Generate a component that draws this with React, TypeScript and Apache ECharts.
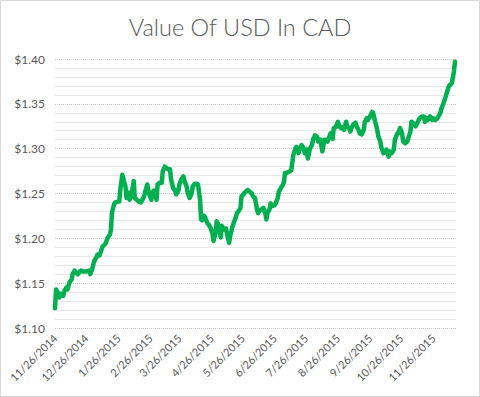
import React, { useEffect, useRef } from "react";
import * as echarts from "echarts";

const START_YEAR = 2014;
const START_MONTH = 10; // November (0-based)
const START_DAY = 26;
const END_OFFSET = 387; // axis end, days after 11/26/2014

// days after 11/26/2014
const dayOffsets = [
  0, 1, 3, 4, 6, 8, 9, 11, 12, 14, 16, 17, 19, 20, 22, 24, 25, 27, 30, 33, 34, 36, 37, 38, 40, 41, 43, 45, 46, 48,
  49, 51, 53, 54, 55, 57, 58, 61, 62, 63, 65, 66, 68, 69, 71, 72, 74, 76, 77, 79, 81, 83, 86, 88, 89,
  91, 93, 95, 96, 98, 99, 101, 103, 104, 106, 107, 109, 111, 112, 114, 116, 117, 119, 120, 122, 124, 125, 127, 128,
  130, 132, 133, 135, 137, 138, 140, 141, 142, 144, 145, 147, 148, 150, 152, 153, 155, 156, 158, 160, 161, 163, 165,
  166, 168, 169, 171, 173, 174, 176, 177, 179, 180, 182, 183, 185, 186,
  188, 190, 191, 193, 195, 196, 198, 199, 201, 203, 204, 205, 207, 208, 210, 212, 213, 215, 216, 218, 220, 221, 222,
  224, 225, 227, 228, 230, 232, 233, 235, 236, 238, 240, 241, 243, 244, 246, 248, 249, 251, 253, 254, 256, 257, 258,
  260, 261, 263, 264, 266, 268, 269, 271, 273, 274, 276, 277, 279, 281, 282, 284,
  285, 286, 288, 290, 291, 293, 294, 296, 298, 299, 301, 302, 304, 306, 307, 309, 311, 312, 314, 315, 317, 319, 320,
  322, 323, 325, 327, 328, 330, 331, 333, 335, 336, 338, 340, 341, 343, 344, 346, 348, 349, 351, 352, 354, 356, 357,
  359, 360, 362, 364, 365, 367, 369, 370, 372, 373, 375, 377, 378, 380, 381, 383, 385, 386,
];

const usdCad = [
  1.122, 1.143, 1.139, 1.134, 1.138, 1.136, 1.141, 1.145, 1.143, 1.151, 1.154, 1.16, 1.164, 1.162, 1.16, 1.163, 1.164,
  1.163, 1.163, 1.164, 1.16, 1.166, 1.171, 1.175, 1.179, 1.182, 1.181, 1.188, 1.191, 1.193,
  1.195, 1.201, 1.204, 1.21, 1.229, 1.238, 1.24, 1.241, 1.241, 1.254, 1.271, 1.266, 1.258, 1.245, 1.251, 1.243, 1.249,
  1.264, 1.245, 1.243, 1.241, 1.24, 1.247, 1.256, 1.26,
  1.249, 1.243, 1.253, 1.253, 1.243, 1.26, 1.262, 1.262, 1.275, 1.28, 1.279, 1.277, 1.277, 1.266, 1.256, 1.253, 1.249,
  1.253, 1.26, 1.266, 1.269, 1.264, 1.258, 1.251,
  1.245, 1.251, 1.258, 1.261, 1.261, 1.26, 1.243, 1.221, 1.22, 1.225, 1.223, 1.217, 1.216, 1.212, 1.205, 1.197, 1.206,
  1.219, 1.214, 1.201, 1.214, 1.21, 1.211,
  1.205, 1.195, 1.202, 1.212, 1.219, 1.222, 1.229, 1.23, 1.234, 1.247, 1.249, 1.251, 1.253, 1.254,
  1.252, 1.25, 1.247, 1.245, 1.232, 1.228, 1.232, 1.232, 1.234, 1.228, 1.221, 1.228, 1.232, 1.239, 1.236, 1.237, 1.239,
  1.245, 1.252, 1.256, 1.26, 1.263, 1.273,
  1.273, 1.274, 1.275, 1.276, 1.293, 1.3, 1.302, 1.295, 1.3, 1.304, 1.3, 1.295, 1.299, 1.289, 1.3, 1.304, 1.31, 1.315,
  1.313, 1.308, 1.31, 1.304, 1.297,
  1.31, 1.31, 1.308, 1.311, 1.317, 1.311, 1.323, 1.324, 1.33, 1.326, 1.323, 1.324, 1.321, 1.33, 1.324, 1.323,
  1.319, 1.323, 1.327, 1.329, 1.325, 1.321, 1.317, 1.316, 1.321, 1.33, 1.334, 1.332, 1.336, 1.341, 1.34, 1.33, 1.321,
  1.314, 1.308, 1.301, 1.295, 1.297, 1.299,
  1.291, 1.297, 1.295, 1.299, 1.31, 1.316, 1.317, 1.323, 1.317, 1.308, 1.306, 1.308, 1.312, 1.319, 1.33, 1.328, 1.325,
  1.327, 1.332, 1.334, 1.336, 1.336, 1.33,
  1.334, 1.332, 1.336, 1.332, 1.334, 1.332, 1.334, 1.336, 1.34, 1.345, 1.351, 1.358, 1.362, 1.369, 1.371, 1.373, 1.386,
  1.397,
];

// month label dates (26th of each month): [year, month(0-based)]
const labelMonths = [
  [2014, 10], [2014, 11], [2015, 0], [2015, 1], [2015, 2], [2015, 3], [2015, 4],
  [2015, 5], [2015, 6], [2015, 7], [2015, 8], [2015, 9], [2015, 10],
];

const yMin = 1.1;
const yMax = 1.4;
const yStep = 0.05;

const startTs = Date.UTC(START_YEAR, START_MONTH, START_DAY);
const DAY = 86400000;
const offsetOf = (y: number, m: number, d: number) => Math.round((Date.UTC(y, m, d) - startTs) / DAY);
const dateLabel = (off: number) => {
  const dt = new Date(startTs + Math.round(off) * DAY);
  return `${dt.getUTCMonth() + 1}/${dt.getUTCDate()}/${dt.getUTCFullYear()}`;
};

export default function App() {
  const ref = useRef<HTMLDivElement>(null);

  useEffect(() => {
    if (!ref.current) return;
    const chart = echarts.init(ref.current, null, { renderer: "svg" });
    const data = dayOffsets.map((d, i) => [d, usdCad[i]]);
    const labelValues = labelMonths.map(([y, m]) => offsetOf(y, m, 26));
    const font = "Lato, 'Open Sans', sans-serif";

    chart.setOption({
      animation: false,
      backgroundColor: "#ffffff",
      title: {
        text: "Value Of USD In CAD",
        left: "center",
        top: 10,
        textStyle: { fontSize: 23.5, fontWeight: 300, color: "#595959", fontFamily: font },
      },
      graphic: [
        {
          type: "rect",
          shape: { x: 0.5, y: 0.5, width: 479, height: 396 },
          style: { fill: "none", stroke: "#d9d9d9", lineWidth: 1 },
          silent: true,
        },
      ],
      grid: { left: 55, right: 24, top: 59, bottom: 69, containLabel: false },
      xAxis: {
        type: "value",
        min: 0,
        max: END_OFFSET,
        axisLine: { show: false },
        axisTick: { show: false },
        splitLine: { show: false },
        axisLabel: {
          customValues: labelValues,
          rotate: 45,
          margin: 8,
          fontSize: 11,
          color: "#595959",
          fontFamily: font,
          hideOverlap: false,
          formatter: (v: number) => dateLabel(v),
        },
      },
      yAxis: {
        type: "value",
        min: yMin,
        max: yMax,
        interval: yStep,
        axisLine: { show: false },
        axisTick: { show: false },
        axisLabel: {
          margin: 10,
          fontSize: 12,
          color: "#595959",
          fontFamily: font,
          formatter: (v: number) => "$" + v.toFixed(2),
        },
        splitLine: { show: true, lineStyle: { color: "#c8c8c8", type: [1, 1], width: 1 } },
        minorTick: { show: false, splitNumber: 5 },
        minorSplitLine: { show: true, lineStyle: { color: "#e8e8e8", width: 1 } },
      },
      series: [
        {
          type: "line",
          data,
          showSymbol: false,
          lineStyle: { color: "#00b050", width: 4.5, join: "round", cap: "round" },
          itemStyle: { color: "#00b050" },
        },
      ],
    });

    return () => chart.dispose();
  }, []);

  return (
    <div
      ref={ref}
      style={{ position: "absolute", left: 0, top: 0, width: 480, height: 397 }}
    />
  );
}
